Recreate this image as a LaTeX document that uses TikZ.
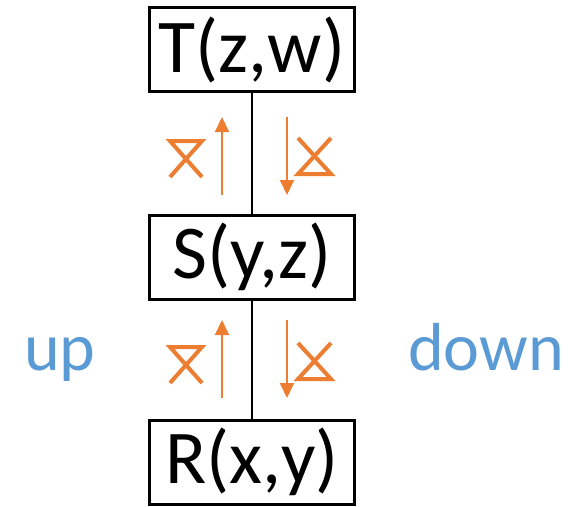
\documentclass[tikz,border=0pt]{standalone}
\usepackage{fontspec}
\setmainfont{Carlito}
\usepackage{xcolor}
\definecolor{joinorange}{RGB}{237,125,49}
\definecolor{dirblue}{RGB}{91,155,213}
\usetikzlibrary{arrows.meta, positioning}

\tikzset{
  relbox/.style={draw=black, line width=3pt, minimum width=205pt, minimum height=84pt,
                 inner sep=0pt, font=\fontsize{76}{80}\selectfont},
  link/.style={black, line width=1.6pt},
  flow/.style={joinorange, line width=2pt, -{Triangle[width=14pt,length=15pt]}},
  joinsym/.style={joinorange, line width=4pt, line join=miter},
  dirlabel/.style={dirblue, inner sep=0pt, anchor=base west, font=\fontsize{68}{72}\selectfont}
}

\begin{document}
\begin{tikzpicture}[x=1pt, y=-1pt]
  \useasboundingbox (0,0) rectangle (585,506);

  % Relations
  \node[relbox] (T) at (252,49.5) {T(z,w)};
  \node[relbox] (S) at (252,257) {S(y,z)};
  \node[relbox] (R) at (252,462) {R(x,y)};

  % Tree edges
  \draw[link] (T.south) -- (S.north);
  \draw[link] (S.south) -- (R.north);

  % Upper pair
  \draw[flow] (222,195) -- (222,117);
  \draw[flow] (287,117) -- (287,195);
  \draw[joinsym] (170,177) -- (202,141) -- (170,141) -- (202,177);
  \draw[joinsym] (298,138) -- (331,174) -- (298,174) -- (331,138);

  % Lower pair
  \draw[flow] (222,398) -- (222,320);
  \draw[flow] (287,320) -- (287,398);
  \draw[joinsym] (170,383) -- (202,347) -- (170,347) -- (202,383);
  \draw[joinsym] (298,343) -- (331,379) -- (298,379) -- (331,343);

  % Directions
  \node[dirlabel] (up) at (24,370) {up};
  \node[dirlabel] (down) at (408,370) {down};
\end{tikzpicture}
\end{document}
